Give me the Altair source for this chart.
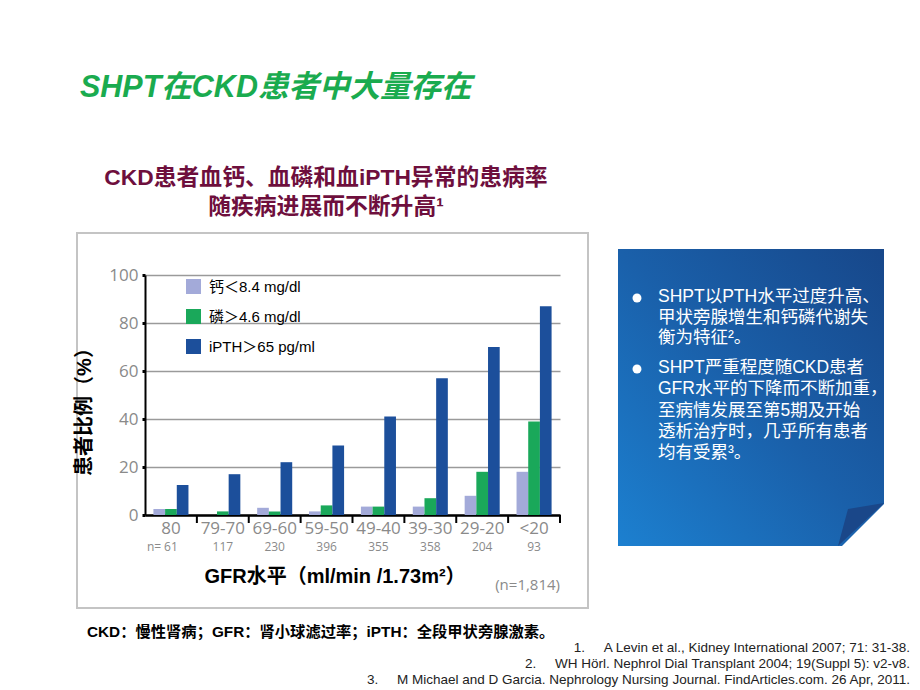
import altair as alt
import pandas as pd

# ---------------- data ----------------
categories = ["80", "79-70", "69-60", "59-50", "49-40", "39-30", "29-20", "<20"]
n_counts = ["61", "117", "230", "396", "355", "358", "204", "93"]
series_names = ["钙＜8.4 mg/dl", "磷＞4.6 mg/dl", "iPTH＞65 pg/ml"]
calcium = [2.5, 0, 3, 1.5, 3.5, 3.5, 8, 18]
phosphorus = [2.5, 1.5, 1.5, 4, 3.5, 7, 18, 39]
ipth = [12.5, 17, 22, 29, 41, 57, 70, 87]
y_ticks = [0, 20, 40, 60, 80, 100]
series_colors = ["#a3aad9", "#1aa85a", "#1c4f9b"]

bullet1 = ["SHPT以PTH水平过度升高、", "甲状旁腺增生和钙磷代谢失", "衡为特征²。"]
bullet2 = ["SHPT严重程度随CKD患者", "GFR水平的下降而不断加重，", "至病情发展至第5期及开始",
           "透析治疗时，几乎所有患者", "均有受累³。"]
refs = [
    "1.\u00a0\u00a0\u00a0\u00a0\u00a0A Levin et al., Kidney International 2007; 71: 31-38.",
    "2.\u00a0\u00a0\u00a0\u00a0\u00a0WH Hörl.  Nephrol Dial Transplant 2004; 19(Suppl 5): v2-v8.",
    "3.\u00a0\u00a0\u00a0\u00a0\u00a0M Michael and D Garcia. Nephrology Nursing Journal. FindArticles.com. 26 Apr, 2011.",
]

rows = []
for name, vals in zip(series_names, [calcium, phosphorus, ipth]):
    for c, v in zip(categories, vals):
        rows.append({"gfr": c, "series": name, "value": v})
df = pd.DataFrame(rows)
ndf = pd.DataFrame({"gfr": categories, "n": n_counts})
one = pd.DataFrame({"a": [0]})

W, H = 415, 240
CJK = "Liberation Sans, Noto Sans CJK SC"
NUM = "Open Sans"

xscale = alt.Scale(domain=categories, paddingInner=0, paddingOuter=0)

bars = alt.Chart(df).mark_bar().encode(
    x=alt.X("gfr:N", sort=categories, scale=xscale,
            axis=alt.Axis(title=None, labelAngle=0, ticks=False, domain=True,
                          domainColor="black", domainWidth=2.5, grid=False,
                          labelFont=NUM, labelFontSize=17, labelColor="#8a8a8a",
                          labelPadding=5)),
    xOffset=alt.XOffset("series:N", sort=series_names,
                        scale=alt.Scale(domain=series_names, paddingOuter=0.72, paddingInner=0)),
    y=alt.Y("value:Q", scale=alt.Scale(domain=[0, 100]),
            axis=alt.Axis(values=y_ticks, title=None, domainColor="black", domainWidth=2,
                          tickColor="black", tickSize=3, tickWidth=3,
                          gridColor="#9a9a9a", gridWidth=1.5,
                          labelFont=NUM, labelFontSize=17, labelColor="#8a8a8a",
                          labelPadding=4)),
    color=alt.Color("series:N", sort=series_names,
                    scale=alt.Scale(domain=series_names, range=series_colors),
                    legend=alt.Legend(title=None, orient="none", legendX=41, legendY=4,
                                      symbolType="square", symbolSize=225,
                                      symbolStrokeWidth=0, labelFont=CJK,
                                      labelFontSize=15, labelColor="black",
                                      labelOffset=8, rowPadding=14)),
)

ticks = alt.Chart(ndf).mark_rule(color="black", strokeWidth=2).encode(
    x=alt.X("gfr:N", sort=categories, scale=xscale, bandPosition=1),
    y=alt.value(H), y2=alt.value(H + 8),
)

nlabels = alt.Chart(ndf).mark_text(font=NUM, fontSize=12, color="#8a8a8a").encode(
    x=alt.X("gfr:N", sort=categories, scale=xscale),
    y=alt.value(272),
    text="n:N",
)


def txt(s, x, y, size, color="black", font=CJK, weight="normal", align="left",
        baseline="middle", style="normal", angle=None):
    kw = dict(align=align, baseline=baseline, fontSize=size, font=font,
              fontWeight=weight, color=color, fontStyle=style)
    if angle is not None:
        kw["angle"] = angle
    return alt.Chart(one).mark_text(**kw).encode(
        x=alt.value(x), y=alt.value(y), text=alt.value(s))


border = alt.Chart(one).mark_rect(fillOpacity=0, stroke="#c4c4c4", strokeWidth=2).encode(
    x=alt.value(-68), x2=alt.value(443), y=alt.value(-42), y2=alt.value(333))

grad = alt.LinearGradient(
    gradient="linear",
    stops=[alt.GradientStop(color="#17478a", offset=0),
           alt.GradientStop(color="#1a60aa", offset=0.5),
           alt.GradientStop(color="#1c80d0", offset=1)],
    x1=1, y1=0, x2=0, y2=1)
box = alt.Chart(one).mark_rect(color=grad).encode(
    x=alt.value(473), x2=alt.value(739), y=alt.value(-26), y2=alt.value(271))

corner = alt.Chart(one).mark_point(shape="M1,-1 L1,1 L-1,1 Z", filled=True, opacity=1,
                                   color="white", size=46 * 46).encode(
    x=alt.value(718), y=alt.value(250))
fold = alt.Chart(one).mark_point(shape="M0.92,-0.86 L-0.92,0.86 L-0.52,-0.62 Z", filled=True,
                                 opacity=1, color="#1a4789", size=2500).encode(
    x=alt.value(716), y=alt.value(249.5))

bullet_dots = [
    alt.Chart(one).mark_point(shape="circle", filled=True, opacity=1, color="white",
                              size=80).encode(x=alt.value(492), y=alt.value(yy))
    for yy in (23, 94)
]

texts = [
    txt("SHPT在CKD患者中大量存在", -65, -187, 30.5, color="#1aab4f", weight="bold", style="italic"),
    txt("CKD患者血钙、血磷和血iPTH异常的患病率", 181, -97, 22.8, color="#6e0f3d", weight="bold", align="center"),
    txt("随疾病进展而不断升高¹", 181, -68, 22.8, color="#6e0f3d", weight="bold", align="center"),
    txt("患者比例（%）", -60, 132, 20, weight="bold", align="center", angle=270),
    txt("GFR水平（ml/min /1.73m²）", 190, 302, 20, weight="bold", align="center"),
    txt("(n=1,814)", 415, 310, 15, color="#8a8a8a", font=NUM, align="right"),
    txt("n=", 2, 272, 12, color="#8a8a8a", font=NUM),
    txt("CKD：慢性肾病；GFR：肾小球滤过率；iPTH：全段甲状旁腺激素。", -58, 357, 15.3, weight="bold"),
]
for i, line in enumerate(bullet1):
    texts.append(txt(line, 513, 22 + 20.5 * i, 17.5, color="white"))
for i, line in enumerate(bullet2):
    texts.append(txt(line, 513, 93 + 21.3 * i, 17.5, color="white"))
for i, r in enumerate(refs):
    texts.append(txt(r, 765, 373 + 16 * i, 13.5, color="#222222",
                     font="Liberation Sans Narrow, Liberation Sans", align="right"))

chart = alt.layer(border, box, corner, fold, *bullet_dots, bars, ticks, nlabels, *texts).properties(
    width=W, height=H,
    autosize=alt.AutoSizeParams(type="none"),
    padding={"left": 137, "top": 267, "right": 352, "bottom": 175},
    background="white",
).configure_view(stroke=None)

chart.save("out.html", embed_options={"renderer": "svg", "actions": False})
